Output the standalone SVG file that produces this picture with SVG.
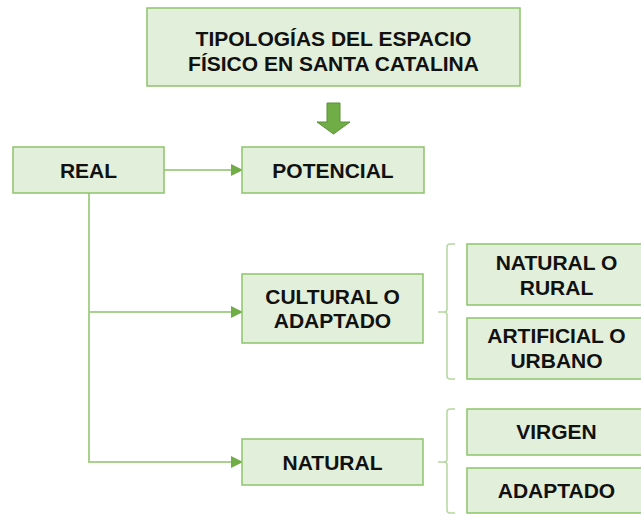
<svg xmlns="http://www.w3.org/2000/svg" width="641" height="514" viewBox="0 0 641 514">
<style>
.box{fill:#E2EFDA;stroke:#8DC46B;stroke-width:1.5}
.t{font-family:"Liberation Sans",Arial,sans-serif;font-weight:bold;font-size:21px;fill:#111;text-anchor:middle}
.c{fill:none;stroke:#A9D18E;stroke-width:2}
.b{fill:none;stroke:#B5D8A0;stroke-width:1.5}
</style>
<defs>
<marker id="ah" markerWidth="12" markerHeight="12" refX="11" refY="6" orient="auto" markerUnits="userSpaceOnUse">
<path d="M0,0 L12,6 L0,12 Z" fill="#70AD47"/>
</marker>
</defs>
<rect width="641" height="514" fill="#fff"/>
<g id="title">
<rect class="box" x="147" y="8" width="373" height="78"/>
<text class="t" x="333.5" y="46">TIPOLOGÍAS DEL ESPACIO</text>
<text class="t" x="333.5" y="71">FÍSICO EN SANTA CATALINA</text>
</g>
<g id="down-arrow">
<path d="M327,103 L340,103 L340,122 L350,122 L333.5,134 L317,122 L327,122 Z" fill="#70AD47" stroke="#5A8F38" stroke-width="1"/>
</g>
<g id="connectors">
<line class="c" x1="164" y1="170" x2="242" y2="170" marker-end="url(#ah)"/>
<polyline class="c" points="89,193 89,462 242,462" marker-end="url(#ah)"/>
<line class="c" x1="89" y1="312" x2="242" y2="312" marker-end="url(#ah)"/>
<path class="b" d="M455,244 L450,244 Q447,244 447,247 L447,309 Q447,312 444,312 L438,312 M444,312 Q447,312 447,315 L447,376 Q447,379 450,379 L455,379"/>
<path class="b" d="M455,409 L450,409 Q447,409 447,412 L447,459 Q447,462 444,462 L438,462 M444,462 Q447,462 447,465 L447,510 Q447,513 450,513 L455,513"/>
</g>
<g id="real">
<rect class="box" x="13" y="147" width="151" height="46"/>
<text class="t" x="88.5" y="178">REAL</text>
</g>
<g id="potencial">
<rect class="box" x="242" y="147" width="182" height="46"/>
<text class="t" x="333" y="178">POTENCIAL</text>
</g>
<g id="cultural">
<rect class="box" x="242" y="274" width="181" height="69"/>
<text class="t" x="332.5" y="304">CULTURAL O</text>
<text class="t" x="332.5" y="328">ADAPTADO</text>
</g>
<g id="natural">
<rect class="box" x="242" y="439" width="181" height="46"/>
<text class="t" x="332.5" y="470">NATURAL</text>
</g>
<g id="natural-rural">
<rect class="box" x="467" y="244" width="181" height="61"/>
<text class="t" x="556.5" y="270">NATURAL O</text>
<text class="t" x="556.5" y="295">RURAL</text>
</g>
<g id="artificial-urbano">
<rect class="box" x="467" y="318" width="181" height="61"/>
<text class="t" x="556.5" y="343">ARTIFICIAL O</text>
<text class="t" x="556.5" y="368">URBANO</text>
</g>
<g id="virgen">
<rect class="box" x="467" y="409" width="181" height="46"/>
<text class="t" x="556.5" y="439">VIRGEN</text>
</g>
<g id="adaptado">
<rect class="box" x="467" y="468" width="181" height="45"/>
<text class="t" x="556.5" y="498">ADAPTADO</text>
</g>
</svg>
